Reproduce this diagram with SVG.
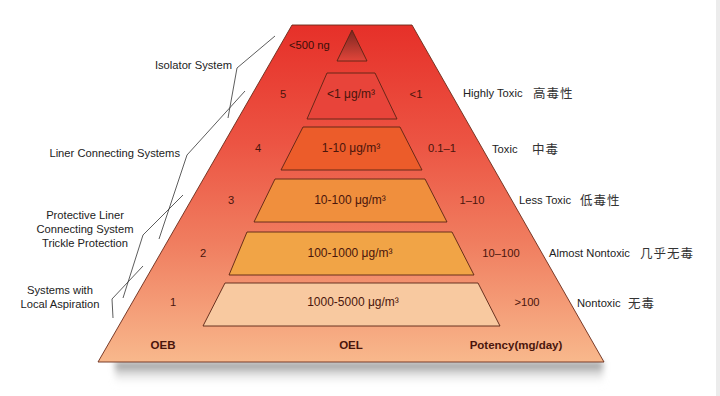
<svg xmlns="http://www.w3.org/2000/svg" width="720" height="396" viewBox="0 0 720 396">
<style>
.t{font-family:"Liberation Sans",Arial,sans-serif;font-size:11.2px;fill:#222}
.n{font-family:"Liberation Sans",Arial,sans-serif;font-size:11.2px;fill:#4a150c;text-anchor:middle}
.v{font-family:"Liberation Sans",Arial,sans-serif;font-size:12px;fill:#4a150c;text-anchor:middle}
.b{font-family:"Liberation Sans",Arial,sans-serif;font-size:11.5px;font-weight:bold;fill:#4a150c;text-anchor:middle}
.c{font-family:"Noto Sans CJK SC","Noto Sans",sans-serif;font-size:12.5px;fill:#333;letter-spacing:1px}
.tier{stroke:#5a2414;stroke-width:0.9}
.br{fill:none;stroke:#333;stroke-width:0.8}
</style>
<defs>
<linearGradient id="pyr" x1="0" y1="0" x2="0" y2="1">
<stop offset="0" stop-color="#e63029"/>
<stop offset="0.35" stop-color="#ec5443"/>
<stop offset="0.65" stop-color="#f07e60"/>
<stop offset="1" stop-color="#f8b88c"/>
</linearGradient>
<linearGradient id="tri" x1="0" y1="0" x2="0" y2="1">
<stop offset="0" stop-color="#7a2620"/>
<stop offset="1" stop-color="#e2453a"/>
</linearGradient>
<linearGradient id="sh" x1="0" y1="0" x2="0" y2="1">
<stop offset="0" stop-color="#6a6a6a" stop-opacity="0.85"/>
<stop offset="1" stop-color="#ffffff" stop-opacity="0"/>
</linearGradient>
<filter id="blur" x="-10%" y="-50%" width="120%" height="200%"><feGaussianBlur stdDeviation="3"/></filter>
</defs>
<rect width="720" height="396" fill="#ffffff"/>
<rect x="716" y="0" width="4" height="396" fill="#ececec"/>
<rect x="115" y="362" width="488" height="24" fill="url(#sh)" filter="url(#blur)"/>
<g id="pyramid">
<polygon points="292,25 412,25 604,362 98,362" fill="url(#pyr)" stroke="#6a2a18" stroke-width="0.9"/>
</g>
<g id="tier-top">
<polygon class="tier" points="352,30 367,61 337,61" fill="url(#tri)"/>
<text class="t" x="289" y="49" style="fill:#3a0f08">&lt;500 ng</text>
</g>
<g id="tier5">
<polygon class="tier" points="327,73 375,73 397,119 307,119" fill="#e8443a"/>
<text class="n" x="283" y="98">5</text>
<text class="v" x="351" y="98">&lt;1 μg/m³</text>
<text class="n" x="416" y="98">&lt;1</text>
</g>
<g id="tier4">
<polygon class="tier" points="303,127 400,127 422,170 281,170" fill="#ec5c2a"/>
<text class="n" x="258" y="152">4</text>
<text class="v" x="351" y="152">1-10 μg/m³</text>
<text class="n" x="442" y="152">0.1–1</text>
</g>
<g id="tier3">
<polygon class="tier" points="275,179 425,179 447,222 254,222" fill="#f08f3d"/>
<text class="n" x="231" y="204">3</text>
<text class="v" x="350" y="204">10-100 μg/m³</text>
<text class="n" x="472" y="204">1–10</text>
</g>
<g id="tier2">
<polygon class="tier" points="247,232 452,232 474,275 229,275" fill="#f1a446"/>
<text class="n" x="203" y="257">2</text>
<text class="v" x="350" y="257">100-1000 μg/m³</text>
<text class="n" x="501" y="257">10–100</text>
</g>
<g id="tier1">
<polygon class="tier" points="225,283 478,283 500,326 203,326" fill="#f8c9a0"/>
<text class="n" x="173" y="306">1</text>
<text class="v" x="353" y="306">1000-5000 μg/m³</text>
<text class="n" x="527" y="306">&gt;100</text>
</g>
<g id="axis-labels">
<text class="b" x="163" y="349">OEB</text>
<text class="b" x="351" y="349">OEL</text>
<text class="b" x="516" y="349">Potency(mg/day)</text>
</g>
<g id="toxicity-labels">
<text class="t" x="463" y="97">Highly Toxic</text><text class="c" x="533" y="98">高毒性</text>
<text class="t" x="492" y="153">Toxic</text><text class="c" x="532" y="154">中毒</text>
<text class="t" x="519" y="204">Less Toxic</text><text class="c" x="580" y="205">低毒性</text>
<text class="t" x="549" y="257">Almost Nontoxic</text><text class="c" x="640" y="258">几乎无毒</text>
<text class="t" x="577" y="307">Nontoxic</text><text class="c" x="628" y="308">无毒</text>
</g>
<g id="system-labels">
<text class="t" x="232" y="69" text-anchor="end">Isolator System</text>
<text class="t" x="180" y="157" text-anchor="end">Liner Connecting Systems</text>
<text class="t" x="85" y="219" text-anchor="middle">Protective Liner</text>
<text class="t" x="85" y="233" text-anchor="middle">Connecting System</text>
<text class="t" x="85" y="247" text-anchor="middle">Trickle Protection</text>
<text class="t" x="60" y="294" text-anchor="middle">Systems with</text>
<text class="t" x="60" y="308" text-anchor="middle">Local Aspiration</text>
</g>
<g id="connectors">
<polyline class="br" points="275,36 237,68 228,118"/>
<polyline class="br" points="245,91 187,155 159,239"/>
<polyline class="br" points="183,195 143,235 123,298"/>
<polyline class="br" points="143,266 112,299 113,318"/>
</g>
</svg>
